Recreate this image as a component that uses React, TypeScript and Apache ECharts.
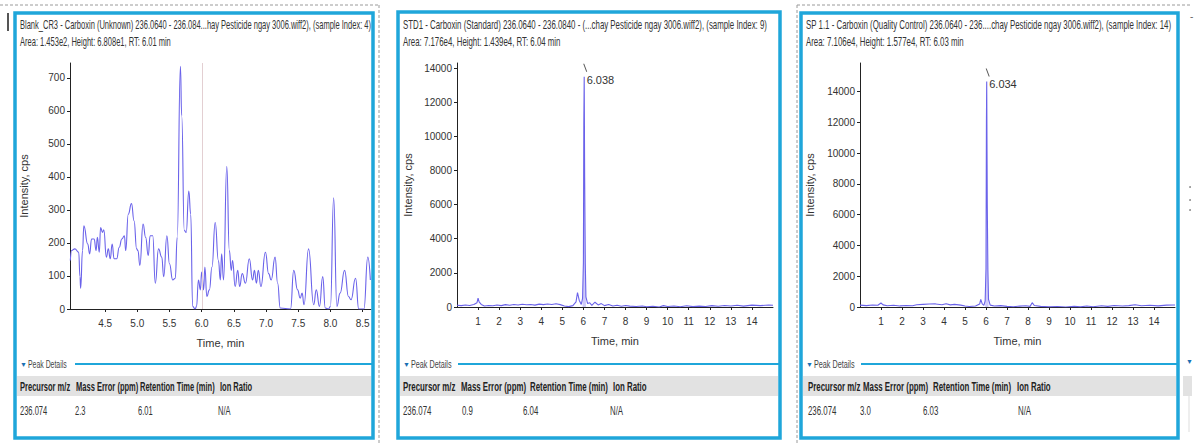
import React, { useEffect, useRef } from "react";
import * as echarts from "echarts";

// ---------- DATA ----------
// Panel 1: Blank_CR3 (time, min / intensity, cps)
const p1Time = [3.96,3.98,4.03,4.09,4.11,4.12,4.15,4.17,4.23,4.26,
  4.29,4.33,4.36,4.38,4.41,4.43,4.46,4.48,4.52,4.55,
  4.58,4.61,4.64,4.68,4.72,4.76,4.80,4.82,4.86,4.91,
  4.95,4.99,5.01,5.04,5.09,5.13,5.17,5.20,5.24,5.28,
  5.33,5.38,5.41,5.46,5.50,5.55,5.59,5.62,5.67,5.69,
  5.73,5.76,5.80,5.83,5.86,5.90,5.92,5.95,5.98,6.00,
  6.03,6.05,6.08,6.12,6.16,6.21,6.26,6.29,6.31,6.34,
  6.39,6.43,6.46,6.48,6.52,6.56,6.59,6.63,6.68,6.74,
  6.79,6.82,6.85,6.88,6.92,6.99,7.04,7.08,7.14,7.18,
  7.22,7.38,7.43,7.49,7.53,7.56,7.59,7.66,7.74,7.78,
  7.83,7.88,7.92,7.97,8.00,8.05,8.10,8.15,8.22,8.28,
  8.32,8.39,8.44,8.52,8.58,8.62];
const p1Intensity = [147,177,182,172,98,63,177,252,197,167,
  212,212,177,217,172,247,232,240,157,182,
  152,197,152,152,187,212,222,177,287,319,
  267,182,177,132,257,217,162,222,222,78,
  182,157,98,222,137,88,93,217,735,585,
  238,232,357,287,8,0,8,88,58,112,
  58,127,38,58,127,262,147,88,167,88,
  432,177,117,147,68,117,68,107,78,152,
  88,117,78,117,68,172,107,88,157,78,
  3,0,117,58,33,48,13,182,13,58,
  8,98,3,0,8,337,8,48,117,38,
  28,93,0,0,157,88];

// Panel 2: STD1
const p2Time = [0.0,0.2,0.4,0.6,0.8,0.95,1.0,1.05,1.15,1.3,1.5,1.7,1.9,2.1,2.3,2.5,2.7,2.9,3.1,3.3,3.5,3.7,3.9,4.1,4.3,4.5,4.7,4.9,5.1,5.3,5.5,5.65,5.72,5.8,5.9,5.96,6.0,6.02,6.038,6.06,6.09,6.12,6.2,6.3,6.4,6.55,6.7,6.85,7.0,7.2,7.4,7.6,7.8,8.0,8.2,8.5,8.8,9.0,9.3,9.6,9.8,10.0,10.3,10.6,10.9,11.2,11.5,11.8,12.1,12.4,12.7,13.0,13.3,13.6,14.0,14.4,14.8,15.0];
const p2Intensity = [100,80,120,90,150,250,520,300,150,60,90,70,120,80,140,100,150,120,160,130,150,110,170,140,180,150,190,140,60,20,80,300,850,400,150,500,2600,10700,13500,7600,2500,600,200,250,100,280,120,200,80,150,60,100,40,90,50,30,60,10,40,0,80,30,60,10,70,20,50,30,80,40,90,60,100,50,110,80,120,100];

// Panel 3: SP 1.1
const p3Time = [0.0,0.3,0.6,0.85,1.0,1.1,1.3,1.6,1.9,2.2,2.5,2.7,3.0,3.3,3.6,3.9,4.1,4.3,4.5,4.8,5.0,5.2,5.5,5.7,5.75,5.82,5.9,5.96,6.0,6.02,6.034,6.06,6.09,6.12,6.2,6.4,6.7,7.0,7.3,7.6,7.9,8.1,8.2,8.3,8.6,9.0,9.4,9.8,10.2,10.5,10.8,11.1,11.5,11.8,12.1,12.5,12.8,13.1,13.4,13.8,14.2,14.6,15.0];
const p3Intensity = [120,90,130,110,260,140,80,110,70,100,80,150,170,190,200,150,210,140,170,120,60,30,60,200,500,200,100,400,2500,12000,14650,6700,2400,500,120,60,90,40,20,60,80,40,280,100,40,10,30,0,40,10,60,20,80,40,100,60,90,150,80,110,70,120,130];

const p1XTicks = [4.5,5.0,5.5,6.0,6.5,7.0,7.5,8.0,8.5];
const p1YTicks = [0,100,200,300,400,500,600,700];
const p23XTicks = [1,2,3,4,5,6,7,8,9,10,11,12,13,14];
const p23YTicks = [0,2000,4000,6000,8000,10000,12000,14000];

const p1RT = 6.01;
const peakTimes = [6.038, 6.034];
const peakLabels = ["6.038", "6.034"];
const peakWindow = [5.96, 6.12];

const headerLine1 = [
  "Blank_CR3 - Carboxin (Unknown) 236.0640 - 236.084...hay Pesticide ngay 3006.wiff2), (sample Index: 4)",
  "STD1 - Carboxin (Standard) 236.0640 - 236.0840 - (...chay Pesticide ngay 3006.wiff2), (sample Index: 9)",
  "SP 1.1 - Carboxin (Quality Control) 236.0640 - 236....chay Pesticide ngay 3006.wiff2), (sample Index: 14)",
];
const headerLine2 = [
  "Area: 1.453e2, Height: 6.808e1, RT: 6.01 min",
  "Area: 7.176e4, Height: 1.439e4, RT: 6.04 min",
  "Area: 7.106e4, Height: 1.577e4, RT: 6.03 min",
];
const tableHeaders = ["Precursor m/z", "Mass Error (ppm)", "Retention Time (min)", "Ion Ratio"];
const tableRows = [
  ["236.074", "2.3", "6.01", "N/A"],
  ["236.074", "0.9", "6.04", "N/A"],
  ["236.074", "3.0", "6.03", "N/A"],
];

// ---------- LAYOUT ----------
const FONT = "'Liberation Sans', Arial, sans-serif";
const UI = "'Liberation Sans', Arial, sans-serif";
const BORDER = "#1fa6da";
const LINE = "#6a62ea";

const PANELS = [
  { x: 15, y: 13, w: 358, h: 425, grid: { left: 70, top: 63, width: 301, height: 246 }, textX: 20, line1W: 352,
    colX: [20, 76, 140, 220], rowX: [20, 75, 138, 218], yNameGap: 41, xMin: 3.955, xMax: 8.63, yMax: 745 },
  { x: 398, y: 12, w: 382, h: 426, grid: { left: 457, top: 63, width: 316, height: 244 }, textX: 403, line1W: 365,
    colX: [403, 461, 530, 613], rowX: [403, 462, 523, 610], yNameGap: 44, xMin: 0, xMax: 15, yMax: 14300 },
  { x: 801, y: 13, w: 377, h: 425, grid: { left: 860, top: 63, width: 315, height: 244 }, textX: 806, line1W: 366,
    colX: [808, 863, 933, 1017], rowX: [808, 860, 923, 1018], yNameGap: 45, xMin: 0, xMax: 15, yMax: 15850 },
];

const ctx = typeof document !== "undefined" ? document.createElement("canvas").getContext("2d") : null;
function textWidth(text: string, font: string) {
  if (!ctx) return text.length * 6;
  ctx.font = font;
  return ctx.measureText(text).width;
}

function txt(x: number, y: number, text: string, font: string, fill: string, sx: number, align = "left") {
  return {
    type: "text", x, y, scaleX: sx, silent: true,
    style: { text, font, fill, align, verticalAlign: "middle", textAlign: align, textVerticalAlign: "middle" },
  };
}

function buildOption() {
  const pairs = (t: number[], v: number[]) => t.map((x, i) => [x, v[i]]);
  const traces = [pairs(p1Time, p1Intensity), pairs(p2Time, p2Intensity), pairs(p3Time, p3Intensity)];

  const graphics: any[] = [];
  const dash = { stroke: "#9a9a9a", lineWidth: 1, lineDash: [3, 2] };
  graphics.push({ type: "line", silent: true, shape: { x1: 0, y1: 5, x2: 380, y2: 5 }, style: dash });
  graphics.push({ type: "line", silent: true, shape: { x1: 797, y1: 5, x2: 1192, y2: 5 }, style: dash });
  graphics.push({ type: "line", silent: true, shape: { x1: 379, y1: 5, x2: 379, y2: 444 }, style: dash });
  graphics.push({ type: "line", silent: true, shape: { x1: 797, y1: 5, x2: 797, y2: 444 }, style: dash });
  graphics.push({ type: "rect", silent: true, shape: { x: 7, y: 13, width: 2, height: 18 }, style: { fill: "#555" } });

  PANELS.forEach((p, i) => {
    const f1 = "12px " + UI;
    const sx = p.line1W / textWidth(headerLine1[i], f1);
    graphics.push({ type: "rect", silent: true, z: 10, shape: { x: p.x, y: p.y, width: p.w, height: p.h },
      style: { fill: "none", stroke: BORDER, lineWidth: 3.5 } });
    graphics.push(txt(p.textX, 25, headerLine1[i], f1, "#333", sx));
    graphics.push(txt(p.textX, 42, headerLine2[i], f1, "#333", sx));
    graphics.push(txt(p.textX, 364, "\u25BC", "7px " + UI, "#1a6fb3", 1));
    graphics.push(txt(p.textX + 8, 364, "Peak Details", "11px " + UI, "#444", sx));
    graphics.push({ type: "line", silent: true, shape: { x1: p.textX + 55, y1: 364, x2: p.x + p.w - 1, y2: 364 },
      style: { stroke: BORDER, lineWidth: 2 } });
    graphics.push({ type: "rect", silent: true, shape: { x: p.x + 2, y: 376, width: p.w - 4, height: 20 },
      style: { fill: "#e2e2e2" } });
    tableHeaders.forEach((h, c) => graphics.push(txt(p.colX[c], 387, h, "bold 12px " + UI, "#222", sx)));
    tableRows[i].forEach((v, c) => graphics.push(txt(p.rowX[c], 411, v, "12px " + UI, "#333", sx)));
  });
  graphics.push(txt(1190, 16, "-", "10px " + UI, "#666", 1));
  [187, 200, 210].forEach((y) => graphics.push({ type: "circle", silent: true, shape: { cx: 1190, cy: y, r: 0.8 }, style: { fill: "#777" } }));
  graphics.push(txt(1186, 361, "\u25BC", "7px " + UI, "#1a6fb3", 1));
  graphics.push({ type: "rect", silent: true, shape: { x: 1183, y: 376, width: 9, height: 20 }, style: { fill: "#e2e2e2" } });
  graphics.push({ type: "line", silent: true, shape: { x1: 1189, y1: 396, x2: 1189, y2: 432 }, style: { stroke: "#ddd", lineWidth: 1 } });

  const axisLine = { show: true, onZero: false, lineStyle: { color: "#222", width: 1 } };
  const labelStyle = { fontSize: 10, color: "#333", fontFamily: FONT };
  const nameStyle = { fontSize: 11, color: "#333", fontFamily: FONT };

  const xAxis = PANELS.map((p, i) => ({
    type: "value", gridIndex: i, min: p.xMin, max: p.xMax,
    axisLine, splitLine: { show: false },
    axisTick: { show: true, length: 3, lineStyle: { color: "#222" }, customValues: i === 0 ? p1XTicks : p23XTicks },
    axisLabel: { ...labelStyle, margin: 9, customValues: i === 0 ? p1XTicks : p23XTicks,
      formatter: (v: number) => (i === 0 ? v.toFixed(1) : String(v)) },
    name: "Time, min", nameLocation: "middle", nameGap: 28, nameTextStyle: nameStyle,
  }));
  const yAxis = PANELS.map((p, i) => ({
    type: "value", gridIndex: i, min: 0, max: p.yMax,
    axisLine, splitLine: { show: false },
    axisTick: { show: true, length: 3, lineStyle: { color: "#222" }, customValues: i === 0 ? p1YTicks : p23YTicks },
    axisLabel: { ...labelStyle, margin: 5, customValues: i === 0 ? p1YTicks : p23YTicks,
      formatter: (v: number) => String(v) },
    name: "Intensity, cps", nameLocation: "middle", nameRotate: 90, nameGap: p.yNameGap, nameTextStyle: nameStyle,
  }));

  const series: any[] = [];
  series.push({
    type: "line", xAxisIndex: 0, yAxisIndex: 0, data: traces[0], showSymbol: false, smooth: 0.5,
    smoothMonotone: "x",
    lineStyle: { color: LINE, width: 1.1 }, silent: true,
    markLine: { silent: true, symbol: ["none", "none"], label: { show: false },
      lineStyle: { color: "#e3cfd2", type: "solid", width: 1 }, data: [{ xAxis: p1RT }] },
  });
  [1, 2].forEach((k) => {
    const v = k === 1 ? p2Intensity : p3Intensity;
    const peakV = Math.max(...v);
    const area = traces[k].filter((d) => d[0] >= peakWindow[0] && d[0] <= peakWindow[1]);
    series.push({
      type: "line", xAxisIndex: k, yAxisIndex: k, data: area, showSymbol: false, silent: true,
      lineStyle: { width: 0, opacity: 0 }, areaStyle: { color: "rgba(140,132,240,0.6)" }, z: 1,
    });
    series.push({
      type: "line", xAxisIndex: k, yAxisIndex: k, data: traces[k], showSymbol: false, silent: true,
      lineStyle: { color: LINE, width: 1.1 }, z: 2,
      markPoint: {
        silent: true,
        data: [
          { coord: [peakTimes[k - 1], peakV], symbol: "path://M0,0L1,0L4,8L3,8Z", symbolSize: [4, 8],
            symbolOffset: [1, -9], itemStyle: { color: "#555" }, label: { show: false } },
          { coord: [peakTimes[k - 1], peakV], symbol: "circle", symbolSize: 1, itemStyle: { color: "rgba(0,0,0,0)" },
            label: { show: true, formatter: peakLabels[k - 1], position: "right", distance: 2, offset: [0, 3],
              fontSize: 11, color: "#333", fontFamily: FONT } },
        ],
      },
    });
  });

  return {
    animation: false,
    backgroundColor: "#ffffff",
    grid: PANELS.map((p) => ({ ...p.grid, containLabel: false })),
    xAxis, yAxis, series, graphic: graphics,
  };
}

export default function App() {
  const ref = useRef<HTMLDivElement>(null);
  useEffect(() => {
    if (!ref.current) return;
    const chart = echarts.init(ref.current, undefined, { renderer: "svg" });
    chart.setOption(buildOption() as any);
    return () => chart.dispose();
  }, []);
  return <div ref={ref} style={{ position: "absolute", left: 0, top: 0, width: 1200, height: 444, background: "#fff" }} />;
}
